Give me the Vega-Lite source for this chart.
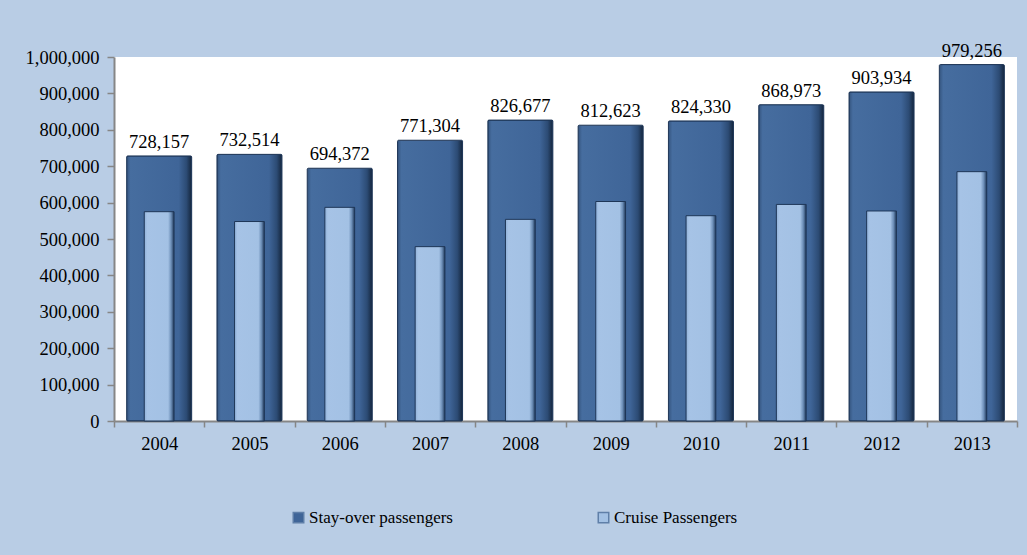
{
  "$schema": "https://vega.github.io/schema/vega-lite/v6.json",
  "autosize": {"type": "none"},
  "padding": {"left": 114, "top": 57, "right": 10, "bottom": 134},
  "width": 903,
  "height": 364,
  "background": "#b9cde5",
  "config": {
    "view": {"fill": "#ffffff", "stroke": null},
    "font": "Times New Roman, Liberation Serif, serif"
  },
  "data": {
    "values": [
      {"year": "2004", "type": "Stay-over passengers", "value": 728157},
      {"year": "2005", "type": "Stay-over passengers", "value": 732514},
      {"year": "2006", "type": "Stay-over passengers", "value": 694372},
      {"year": "2007", "type": "Stay-over passengers", "value": 771304},
      {"year": "2008", "type": "Stay-over passengers", "value": 826677},
      {"year": "2009", "type": "Stay-over passengers", "value": 812623},
      {"year": "2010", "type": "Stay-over passengers", "value": 824330},
      {"year": "2011", "type": "Stay-over passengers", "value": 868973},
      {"year": "2012", "type": "Stay-over passengers", "value": 903934},
      {"year": "2013", "type": "Stay-over passengers", "value": 979256},
      {"year": "2004", "type": "Cruise Passengers", "value": 575000},
      {"year": "2005", "type": "Cruise Passengers", "value": 548000},
      {"year": "2006", "type": "Cruise Passengers", "value": 587000},
      {"year": "2007", "type": "Cruise Passengers", "value": 479000},
      {"year": "2008", "type": "Cruise Passengers", "value": 554000},
      {"year": "2009", "type": "Cruise Passengers", "value": 603000},
      {"year": "2010", "type": "Cruise Passengers", "value": 564000},
      {"year": "2011", "type": "Cruise Passengers", "value": 595000},
      {"year": "2012", "type": "Cruise Passengers", "value": 577000},
      {"year": "2013", "type": "Cruise Passengers", "value": 685000}
    ]
  },
  "encoding": {
    "x": {
      "field": "year", "type": "ordinal", "sort": null,
      "scale": {"paddingInner": 0, "paddingOuter": 0},
      "axis": {
        "title": null, "labelAngle": 0, "tickBand": "extent",
        "labelFont": "Times New Roman, Liberation Serif, serif", "labelFontSize": 18.5, "labelColor": "#000000",
        "labelPadding": 7,
        "domainColor": "#868686", "domainWidth": 2, "tickColor": "#868686", "tickWidth": 1.5, "tickSize": 6
      }
    },
    "y": {
      "field": "value", "type": "quantitative",
      "scale": {"domain": [0, 1000000]},
      "axis": {
        "title": null, "values": [0,100000,200000,300000,400000,500000,600000,700000,800000,900000,1000000],
        "labelExpr": "format(datum.value, ',')", "labelOverlap": false, "grid": false,
        "labelFont": "Times New Roman, Liberation Serif, serif", "labelFontSize": 18.5, "labelColor": "#000000",
        "labelPadding": 8,
        "domainColor": "#868686", "domainWidth": 2, "tickColor": "#868686", "tickWidth": 1.5, "tickSize": 7
      }
    }
  },
  "layer": [
    {
      "transform": [{"filter": "datum.type === 'Stay-over passengers'"}],
      "mark": {
        "type": "bar", "width": {"band": 0.72}, "stroke": "#1e3657", "strokeWidth": 1, "cornerRadius": 1,
        "fill": {"gradient": "linear", "x1": 0, "y1": 0, "x2": 1, "y2": 0,
          "stops": [
            {"offset": 0, "color": "#34547e"},
            {"offset": 0.06, "color": "#466d9f"},
            {"offset": 0.8, "color": "#3f6598"},
            {"offset": 0.92, "color": "#2c4b74"},
            {"offset": 1, "color": "#14253c"}
          ]}
      }
    },
    {
      "transform": [{"filter": "datum.type === 'Cruise Passengers'"}],
      "mark": {
        "type": "bar", "width": {"band": 0.33}, "stroke": "#1e3657", "strokeWidth": 1,
        "fill": {"gradient": "linear", "x1": 0, "y1": 0, "x2": 1, "y2": 0,
          "stops": [
            {"offset": 0, "color": "#8fb0d8"},
            {"offset": 0.1, "color": "#a6c3e6"},
            {"offset": 0.8, "color": "#a3c1e4"},
            {"offset": 0.9, "color": "#6d8fb8"},
            {"offset": 1, "color": "#1e3657"}
          ]}
      }
    },
    {
      "mark": {"type": "square", "size": 0, "opacity": 0},
      "encoding": {
        "color": {
          "field": "type", "type": "nominal",
          "scale": {"domain": ["Stay-over passengers", "Cruise Passengers"], "range": ["#3f6598", "#a3c1e4"]},
          "legend": {
            "title": null, "orient": "none", "direction": "horizontal",
            "legendX": 176, "legendY": 452,
            "symbolType": "square", "symbolSize": 110, "symbolOpacity": 1,
            "symbolStrokeColor": "#5f7fa8", "symbolStrokeWidth": 1.5,
            "labelFont": "Times New Roman, Liberation Serif, serif", "labelFontSize": 17, "labelColor": "#000000",
            "labelOffset": 2, "columnPadding": 142
          }
        }
      }
    },
    {
      "transform": [{"filter": "datum.type === 'Stay-over passengers'"}],
      "mark": {"type": "text", "dy": -14, "font": "Times New Roman, Liberation Serif, serif", "fontSize": 18.5, "color": "#000000"},
      "encoding": {
        "text": {"field": "value", "type": "quantitative", "format": ","}
      }
    }
  ]
}
